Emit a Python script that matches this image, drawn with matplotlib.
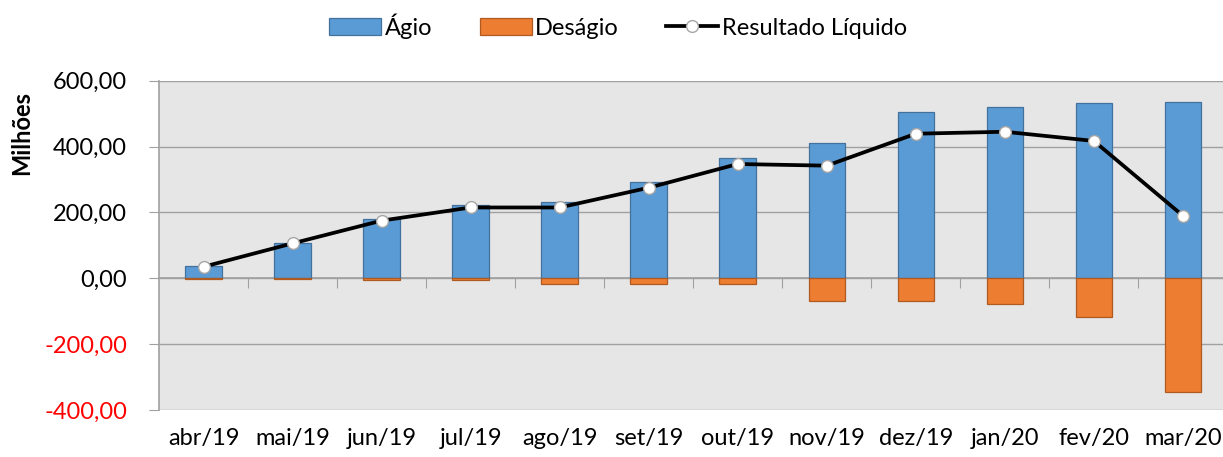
import numpy as np
import matplotlib.pyplot as plt
from matplotlib.ticker import FuncFormatter

meses = ["abr/19", "mai/19", "jun/19", "jul/19", "ago/19", "set/19",
         "out/19", "nov/19", "dez/19", "jan/20", "fev/20", "mar/20"]
agio = [37, 106, 181, 222, 231, 292, 364, 410, 506, 521, 533, 534]
desagio = [-1, -1, -4, -5, -18, -18, -18, -68, -69, -77, -118, -346]
resultado = [35, 106, 175, 215, 215, 275, 347, 342, 439, 445, 417, 190]

plt.rcParams['font.family'] = ['Lato', 'DejaVu Sans']

W, H = 1223, 457
fig = plt.figure(figsize=(W / 100, H / 100), dpi=100)
ax = fig.add_axes([159 / W, 1 - 410 / H, (W - 159) / W, (410 - 80.7) / H])
ax.set_facecolor('#e6e6e6')

x = np.arange(len(meses))
b1 = ax.bar(x, agio, width=0.41, color='#5b9bd5', edgecolor='#41719c', linewidth=0.9,
            label='Ágio', zorder=3)
b2 = ax.bar(x, desagio, width=0.41, color='#ed7d31', edgecolor='#ae5a21', linewidth=0.9,
            label='Deságio', zorder=3)
l1, = ax.plot(x, resultado, color='black', linewidth=2.7, marker='o', markersize=8.5,
              markerfacecolor='white', markeredgecolor='#a6a6a6', markeredgewidth=1,
              label='Resultado Líquido', zorder=4)

ax.set_ylim(-400, 600)
ax.set_yticks(np.arange(-400, 601, 200))
ax.yaxis.set_major_formatter(FuncFormatter(lambda v, p: f"{v:,.2f}".replace('.', ',')))
ax.grid(axis='y', color='#a0a0a0', linewidth=1, zorder=0)
ax.set_xlim(-0.5, 11.45)

for s in ['top', 'right']:
    ax.spines[s].set_visible(False)
ax.spines['left'].set_color('#a0a0a0')
ax.spines['left'].set_linewidth(1.2)
ax.spines['bottom'].set_position(('data', 0))
ax.spines['bottom'].set_color('#a0a0a0')
ax.spines['bottom'].set_linewidth(1.2)
ax.spines['bottom'].set_zorder(2)

ax.tick_params(axis='y', length=7, color='#a0a0a0', labelsize=17, pad=16)
for lbl in ax.get_yticklabels():
    if lbl.get_text().startswith('-'):
        lbl.set_color('red')

# category boundary ticks on the zero line
ax.set_xticks(np.arange(len(meses) - 1) + 0.5)
ax.tick_params(axis='x', length=7, color='#a0a0a0', labelbottom=False)

sec = ax.secondary_xaxis(0.0)
sec.set_xticks(x)
sec.set_xticklabels(meses)
sec.tick_params(length=0, labelsize=17, pad=13)
sec.spines['bottom'].set_visible(False)

fig.text(22 / W, 1 - 133 / H, 'Milhões', rotation=90, ha='center', va='center',
         fontsize=17, fontweight='bold')

fig.legend([b1, b2, l1], ['Ágio', 'Deságio', 'Resultado Líquido'],
           loc='center', bbox_to_anchor=(618 / W, 1 - 26 / H), ncol=3,
           frameon=False, fontsize=17, handlelength=2.2, handleheight=0.75,
           handletextpad=0.15, columnspacing=2.0)

fig.savefig('out.png', dpi=100)
